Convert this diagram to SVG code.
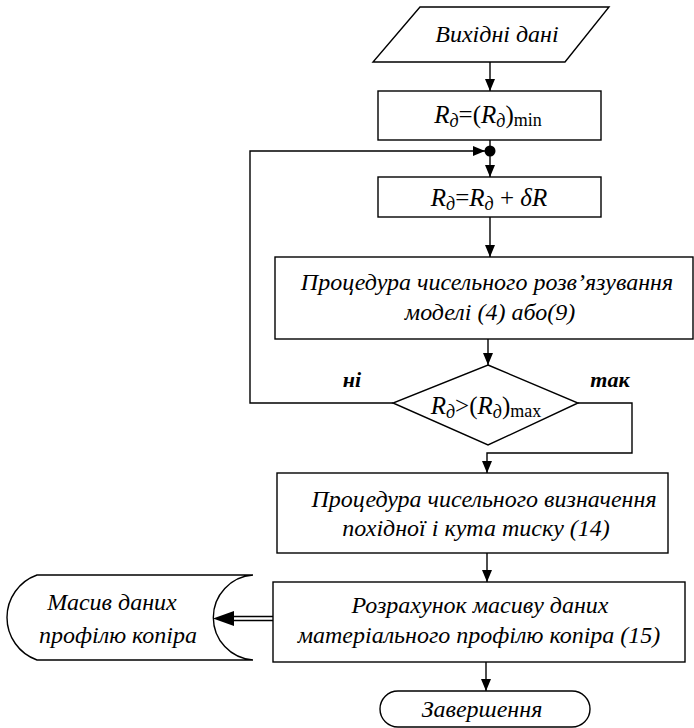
<svg xmlns="http://www.w3.org/2000/svg" width="694" height="728" viewBox="0 0 694 728">
<defs>
<marker id="arr" markerUnits="userSpaceOnUse" markerWidth="12" markerHeight="10" refX="12" refY="5" orient="auto">
<path d="M0,0 L12,5 L0,10 Z" fill="#000"/>
</marker>
<style>
.shape{fill:#fff;stroke:#000;stroke-width:1.4}
.line{fill:none;stroke:#000;stroke-width:1.4}
.t{font-family:"Liberation Serif","Times New Roman",serif;font-style:italic;font-size:24px;fill:#000;text-anchor:middle}
.f{font-family:"Liberation Serif","Times New Roman",serif;font-size:25px;fill:#000;text-anchor:middle}
.i{font-style:italic}
.s{font-size:18px}
.lab{font-family:"Liberation Serif","Times New Roman",serif;font-style:italic;font-weight:bold;font-size:22px;fill:#000;text-anchor:middle}
</style>
</defs>

<g id="connectors">
<line class="line" x1="490" y1="62" x2="490" y2="91" marker-end="url(#arr)"/>
<line class="line" x1="490" y1="140" x2="490" y2="151"/>
<circle cx="490" cy="151" r="5.5" fill="#000"/>
<polyline class="line" points="393,403 250,403 250,151 485,151" marker-end="url(#arr)"/>
<line class="line" x1="490" y1="151" x2="490" y2="177" marker-end="url(#arr)"/>
<line class="line" x1="490" y1="217" x2="490" y2="257" marker-end="url(#arr)"/>
<line class="line" x1="488" y1="339" x2="488" y2="365" marker-end="url(#arr)"/>
<polyline class="line" points="578,403 632,403 632,453 487,453 487,473" marker-end="url(#arr)"/>
<line class="line" x1="487" y1="553" x2="487" y2="582" marker-end="url(#arr)"/>
<line class="line" x1="486" y1="662" x2="486" y2="691" marker-end="url(#arr)"/>
<line class="line" x1="273" y1="616.5" x2="230" y2="616.5"/>
<line class="line" x1="273" y1="620.5" x2="230" y2="620.5"/>
<path d="M213,618.5 L234,611 L234,626 Z" fill="#000"/>
<text class="lab" x="352" y="387">ні</text>
<text class="lab" x="610" y="387">так</text>
</g>

<g id="input">
<polygon class="shape" points="420,7 609,7 565,62 373,62"/>
<text class="t" x="497" y="42">Вихідні дані</text>
</g>

<g id="init">
<rect class="shape" x="378" y="91" width="223" height="49"/>
<text class="f" x="488" y="123"><tspan class="i">R</tspan><tspan class="i s" dy="4">д</tspan><tspan dy="-4">=(</tspan><tspan class="i">R</tspan><tspan class="i s" dy="4">д</tspan><tspan dy="-4">)</tspan><tspan class="s" dy="3">min</tspan></text>
</g>

<g id="increment">
<rect class="shape" x="378" y="177" width="223" height="40"/>
<text class="f" x="489" y="206"><tspan class="i">R</tspan><tspan class="i s" dy="4">д</tspan><tspan dy="-4">=</tspan><tspan class="i">R</tspan><tspan class="i s" dy="4">д</tspan><tspan dy="-4"> + </tspan><tspan class="i">δR</tspan></text>
</g>

<g id="solve">
<rect class="shape" x="275" y="257" width="418" height="82"/>
<text class="t" x="487" y="290">Процедура чисельного розв’язування</text>
<text class="t" x="490" y="320">моделі (4) або(9)</text>
</g>

<g id="decision">
<polygon class="shape" points="488,365 578,403 488,445 393,403"/>
<text class="f" x="486" y="414"><tspan class="i">R</tspan><tspan class="i s" dy="4">д</tspan><tspan dy="-4">&gt;(</tspan><tspan class="i">R</tspan><tspan class="i s" dy="4">д</tspan><tspan dy="-4">)</tspan><tspan class="s" dy="3">max</tspan></text>
</g>

<g id="derivative">
<rect class="shape" x="277" y="473" width="391" height="80"/>
<text class="t" x="484" y="507">Процедура чисельного визначення</text>
<text class="t" x="476" y="536">похідної і кута тиску (14)</text>
</g>

<g id="calc">
<rect class="shape" x="273" y="582" width="412" height="80"/>
<text class="t" x="480" y="613">Розрахунок масиву даних</text>
<text class="t" x="479" y="643">матеріального профілю копіра (15)</text>
</g>

<g id="storage">
<path class="shape" d="M37,575 L253,575 A42.6,42.6 0 0,0 253,660 L37,660 A45.1,45.1 0 0,1 37,575 Z"/>
<text class="t" x="112" y="610">Масив даних</text>
<text class="t" x="118" y="643">профілю копіра</text>
</g>

<g id="end">
<rect class="shape" x="380" y="691" width="210" height="36" rx="18" ry="18"/>
<text class="t" x="482" y="717">Завершення</text>
</g>
</svg>
